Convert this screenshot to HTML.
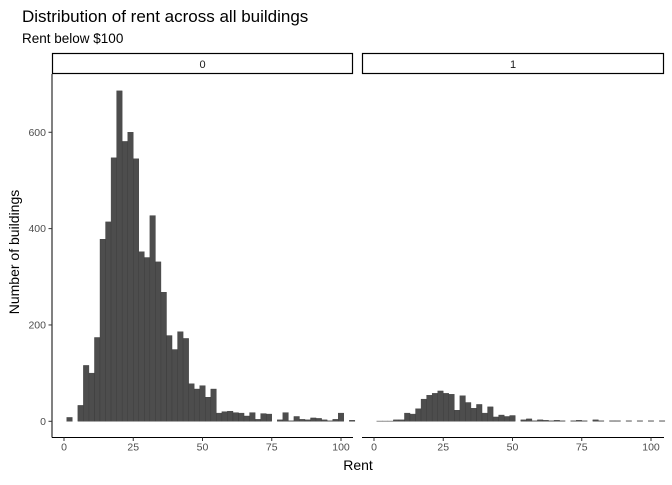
<!DOCTYPE html>
<html><head><meta charset="utf-8"><style>
body{margin:0;background:#fff;font-family:"Liberation Sans",sans-serif}
svg text{font-family:"Liberation Sans",sans-serif}
</style></head><body>
<svg id="c" width="672" height="480" xmlns="http://www.w3.org/2000/svg">
<text x="22" y="22" font-size="17" fill="#000">Distribution of rent across all buildings</text>
<text x="22" y="43" font-size="13.5" fill="#000">Rent below $100</text>
<text x="358" y="470" font-size="14" text-anchor="middle">Rent</text>
<text transform="translate(19,252) rotate(-90)" font-size="14" text-anchor="middle">Number of buildings</text>
<g id="g"></g>
</svg>
<script>
const binStart = 1, binWidth = 2;
const panelNames = ["0","1"];
const counts0 = [8,0,33,116,100,174,378,414,547,686,581,600,545,352,340,427,331,268,178,149,186,172,78,67,74,50,67,17,20,21,18,17,11,18,4,16,15,0,3,18,1,10,4,3,7,6,3,1,4,17,0,2];
const counts1 = [0.5,0.5,0.5,3,3,17,15,26,46,54,58,63,58,56,23,53,39,27,35,17,30,9,13,10,12,0,3,5,1,3,2,1,2,1,0,1,2,1,0,3,1,0,1,1,0,1,0,1,0,1,0,1];
const xTicks = [0,25,50,75,100];
const yTicks = [0,200,400,600];
const panels = [{x0:52,x1:353,data:counts0},{x0:362,x1:664,data:counts1}];
const yTop=74, yBot=437.5;
const y = v => 421.3 - v*0.4817;
const NS="http://www.w3.org/2000/svg";
const g=document.getElementById('g');
function mk(t,a,p){const e=document.createElementNS(NS,t);for(const k in a)e.setAttribute(k,a[k]);(p||g).appendChild(e);return e;}
panels.forEach((p,pi)=>{
  const x = v => p.x0+12+v*2.77;
  const strip=mk('rect',{x:p.x0+0.5,y:53.5,width:p.x1-p.x0-1,height:20,fill:'#fff',stroke:'#000','stroke-width':1.2});
  
  
  const st=mk('text',{x:(p.x0+p.x1)/2,y:68,'font-size':11,'text-anchor':'middle',fill:'#1a1a1a'});
  st.textContent=panelNames[pi];
  
  
  p.data.forEach((v,i)=>{
    const a=binStart+i*binWidth, b=a+binWidth;
    const r=mk('rect',{x:x(a),y:y(v),width:x(b)-x(a),height:y(0)-y(v),fill:'#4d4d4d',stroke:'#3a3a3a','stroke-width':0.4});
    
    
  });
  const ax=mk('line',{x1:p.x0,x2:p.x1,y1:yBot,y2:yBot,stroke:'#000','stroke-width':1});
  
  
  xTicks.forEach(t=>{
    mk('line',{x1:x(t),x2:x(t),y1:yBot,y2:yBot+3.5,stroke:'#333'});
    const tx=mk('text',{x:x(t),y:yBot+13,'font-size':10.5,'text-anchor':'middle',fill:'#4d4d4d'});
    tx.textContent=t;
    
    
  });
});
const ya=mk('line',{x1:52,x2:52,y1:yTop,y2:yBot,stroke:'#000','stroke-width':1});


yTicks.forEach(t=>{
  mk('line',{x1:48.5,x2:52,y1:y(t),y2:y(t),stroke:'#333'});
  const tx=mk('text',{x:46,y:y(t)+3.5,'font-size':10.5,'text-anchor':'end',fill:'#4d4d4d'});
  tx.textContent=t;
  
  
});
</script>
</body></html>
